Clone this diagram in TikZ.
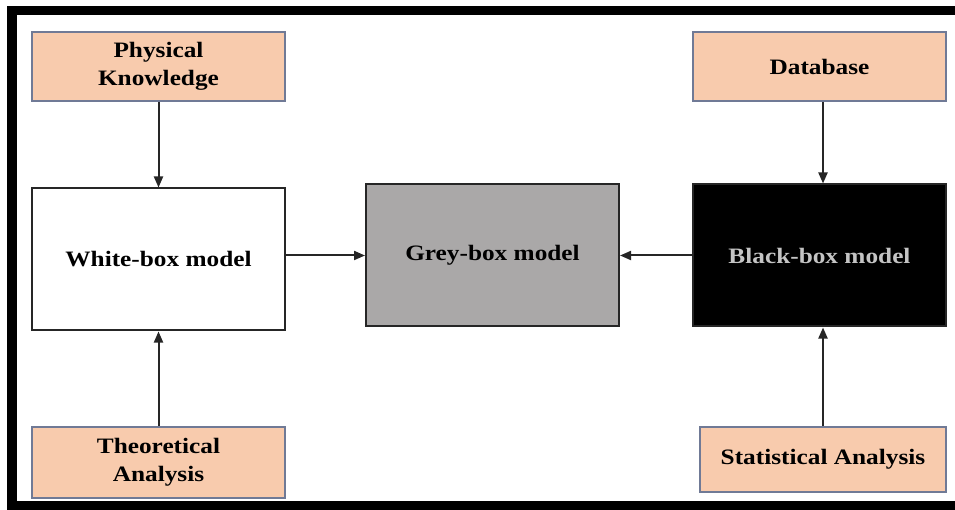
\documentclass[tikz,border=0pt]{standalone}
\usepackage{fontspec}
\setmainfont{Liberation Serif}[FakeStretch=1.15]
\usetikzlibrary{arrows.meta}

\definecolor{peach}{RGB}{248,203,173}
\definecolor{peachline}{RGB}{112,122,150}
\definecolor{greybox}{RGB}{170,168,168}
\definecolor{blacktext}{RGB}{196,196,196}

\tikzset{
  box/.style={draw=black!85, line width=2pt, inner sep=0pt, align=center,
    font=\fontsize{22}{28}\selectfont\bfseries},
  source/.style={box, draw=peachline, fill=peach, minimum width=253pt},
  modelbox/.style={box, minimum width=253pt, minimum height=142pt},
  link/.style={line width=2pt, draw=black!85, -{Triangle[length=11pt,width=9pt]}}
}

\begin{document}
\begin{tikzpicture}[x=1pt,y=-1pt]
      \useasboundingbox (0,0) rectangle (955,510);

      % frame
      \fill (7,6) rectangle (955,15);
      \fill (7,6) rectangle (17,510);
      \fill (7,501) rectangle (955,510);

      \node[source, minimum height=69pt] (phys) at (158.5,66.5) {Physical\\Knowledge};
      \node[source, minimum height=69pt] (db) at (819.5,66.5) {Database};

      \node[modelbox, fill=white] (white) at (158.5,259.5) {White-box model};
      \node[modelbox, fill=greybox] (grey) at (492.5,255.5) {Grey-box model};
      \node[modelbox, fill=black, text=blacktext] (black) at (819.5,255.5) {Black-box model};

      \node[source, minimum height=71pt] (theo) at (158.5,462.5) {Theoretical\\Analysis};
      \node[source, minimum width=246pt, minimum height=65pt] (stat) at (823,459.5) {Statistical Analysis};

      \draw[link] (phys) -- (white);
      \draw[link] (theo) -- (white);
      \draw[link] (db.south -| stat.north) -- (stat.north |- black.north);
      \draw[link] (stat.north) -- (stat.north |- black.south);
      \draw[link] (grey.west -| white.east) -- (grey.west);
      \draw[link] (black.west) -- (grey.east);
    \end{tikzpicture}
\end{document}
